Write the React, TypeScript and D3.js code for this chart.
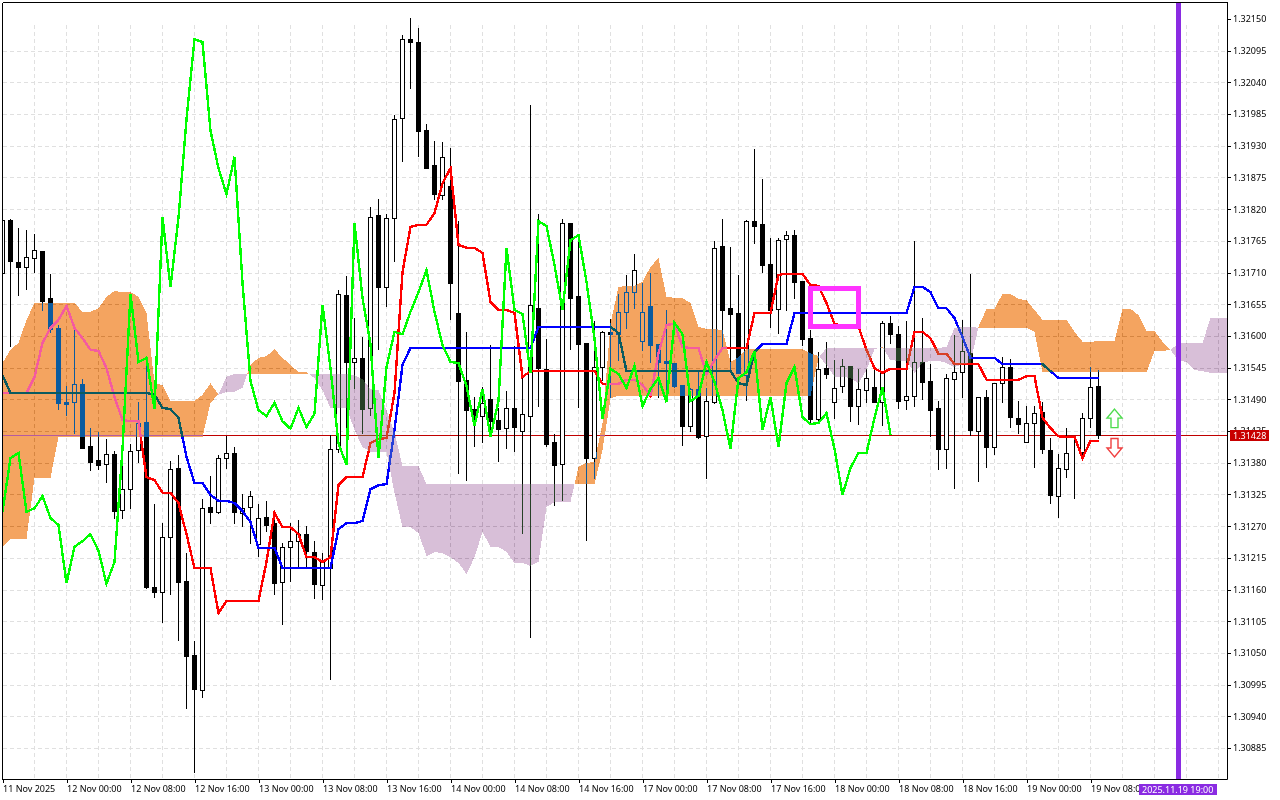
import React, { useEffect, useRef } from 'react'
import * as d3 from 'd3'

// all prices are points above 1.30000
const BASE = 1.3

const open = [
  1709, 1801, 1728, 1720, 1735, 1747, 1666, 1614, 1486, 1486,
  1517, 1409, 1385, 1378, 1395, 1298, 1335, 1402, 1451, 1164,
  1156, 1251, 1371, 1175, 1046, 986, 1303, 1295, 1388, 1397,
  1293, 1303, 1239, 1286, 1275, 1173, 1234, 1244, 1256, 1225,
  1168, 1197, 1404, 1671, 1555, 1562, 1475, 1810, 1685, 1805,
  1978, 2115, 2110, 1957, 1897, 1845, 1860, 1640, 1524, 1473,
  1461, 1491, 1454, 1440, 1475, 1435, 1461, 1649, 1543, 1416,
  1378, 1796, 1669, 1588, 1388, 1546, 1607, 1603, 1642, 1676,
  1591, 1652, 1586, 1557, 1553, 1515, 1444, 1508, 1426, 1485,
  1756, 1648, 1640, 1532, 1799, 1794, 1725, 1647, 1768, 1775,
  1695, 1596, 1456, 1544, 1485, 1513, 1548, 1478, 1506, 1511,
  1485, 1623, 1603, 1489, 1496, 1555, 1522, 1475, 1404, 1525,
  1537, 1570, 1435, 1494, 1407, 1518, 1546, 1457, 1416, 1449,
  1468, 1402, 1322, 1369, 1397, 1399, 1458, 1513,
]
const high = [
  1805, 1805, 1789, 1786, 1779, 1747, 1709, 1621, 1515, 1623,
  1527, 1442, 1435, 1423, 1402, 1380, 1414, 1487, 1550, 1310,
  1277, 1385, 1395, 1225, 1072, 1319, 1359, 1395, 1428, 1409,
  1328, 1333, 1310, 1315, 1295, 1243, 1277, 1282, 1272, 1246,
  1225, 1430, 1681, 1706, 1633, 1600, 1826, 1839, 1813, 1985,
  2124, 2154, 2136, 1970, 1940, 1938, 1928, 1801, 1609, 1496,
  1513, 1586, 1477, 1506, 1584, 1541, 2002, 1813, 1596, 1432,
  1805, 1798, 1775, 1588, 1628, 1610, 1631, 1675, 1708, 1744,
  1694, 1711, 1586, 1647, 1553, 1515, 1511, 1543, 1511, 1766,
  1805, 1756, 1708, 1803, 1926, 1874, 1772, 1772, 1784, 1786,
  1695, 1612, 1574, 1591, 1560, 1562, 1548, 1544, 1544, 1550,
  1628, 1636, 1619, 1628, 1766, 1633, 1553, 1489, 1536, 1603,
  1630, 1709, 1496, 1508, 1520, 1565, 1562, 1489, 1480, 1480,
  1487, 1425, 1397, 1442, 1425, 1468, 1548, 1543,
]
const low = [
  1683, 1583, 1671, 1681, 1711, 1645, 1607, 1473, 1463, 1432,
  1406, 1367, 1369, 1347, 1284, 1284, 1301, 1381, 1163, 1147,
  1104, 1152, 1072, 954, 843, 973, 1275, 1293, 1371, 1275,
  1270, 1241, 1218, 1262, 1152, 1100, 1175, 1197, 1199, 1145,
  1144, 1005, 1399, 1432, 1510, 1432, 1463, 1577, 1652, 1730,
  1904, 2030, 1912, 1891, 1838, 1838, 1629, 1362, 1350, 1409,
  1416, 1426, 1383, 1406, 1400, 1258, 1078, 1478, 1409, 1307,
  1315, 1577, 1477, 1246, 1354, 1524, 1494, 1558, 1614, 1648,
  1576, 1555, 1494, 1487, 1511, 1411, 1435, 1423, 1354, 1484,
  1581, 1541, 1536, 1489, 1761, 1711, 1616, 1605, 1645, 1666,
  1584, 1449, 1454, 1527, 1458, 1503, 1452, 1447, 1485, 1485,
  1445, 1588, 1475, 1473, 1478, 1491, 1426, 1369, 1371, 1336,
  1494, 1428, 1348, 1373, 1395, 1485, 1442, 1432, 1416, 1373,
  1397, 1310, 1286, 1355, 1319, 1390, 1442, 1423,
]
const close = [
  1801, 1730, 1720, 1737, 1749, 1661, 1612, 1484, 1482, 1517,
  1406, 1381, 1376, 1395, 1296, 1335, 1400, 1449, 1164, 1156,
  1251, 1369, 1173, 1045, 987, 1301, 1295, 1388, 1397, 1295,
  1301, 1322, 1284, 1272, 1171, 1234, 1244, 1256, 1227, 1170,
  1208, 1404, 1673, 1555, 1562, 1473, 1806, 1685, 1805, 1976,
  2115, 2110, 1956, 1891, 1846, 1911, 1692, 1522, 1471, 1461,
  1484, 1452, 1439, 1475, 1442, 1465, 1654, 1544, 1413, 1376,
  1796, 1666, 1586, 1388, 1546, 1607, 1603, 1642, 1676, 1714,
  1642, 1584, 1555, 1553, 1513, 1444, 1508, 1425, 1487, 1753,
  1645, 1638, 1536, 1799, 1791, 1723, 1645, 1766, 1775, 1694,
  1595, 1456, 1543, 1534, 1510, 1548, 1478, 1508, 1527, 1485,
  1623, 1603, 1487, 1496, 1555, 1520, 1471, 1404, 1527, 1537,
  1574, 1437, 1494, 1407, 1518, 1546, 1459, 1447, 1449, 1466,
  1404, 1324, 1371, 1397, 1397, 1458, 1511, 1428,
]

const tenkan = [
  1501, 1501, 1501, 1501, 1529, 1588, 1614, 1628, 1652, 1614,
  1596, 1576, 1574, 1544, 1494, 1454, 1452, 1452, 1355, 1350,
  1328, 1328, 1310, 1256, 1197, 1197, 1197, 1119, 1140, 1140,
  1140, 1140, 1140, 1208, 1293, 1268, 1268, 1256, 1216, 1216,
  1208, 1216, 1341, 1355, 1355, 1355, 1414, 1421, 1423, 1501,
  1711, 1789, 1793, 1793, 1813, 1865, 1891, 1758, 1753, 1753,
  1744, 1659, 1645, 1645, 1640, 1529, 1539, 1539, 1539, 1539,
  1539, 1539, 1539, 1539, 1539, 1517, 1517, 1517, 1524, 1524,
  1515, 1496, 1570, 1619, 1621, 1581, 1579, 1579, 1534, 1558,
  1579, 1579, 1579, 1579, 1640, 1640, 1640, 1706, 1708, 1708,
  1708, 1688, 1687, 1657, 1621, 1617, 1617, 1616, 1576, 1544,
  1536, 1543, 1543, 1543, 1607, 1607, 1596, 1569, 1569, 1551,
  1551, 1551, 1551, 1524, 1524, 1524, 1524, 1524, 1530, 1530,
  1458, 1440, 1426, 1425, 1425, 1388, 1418, 1418,
]
const kijun = [
  1532, 1501, 1501, 1501, 1501, 1501, 1501, 1501, 1501, 1501,
  1501, 1501, 1501, 1501, 1501, 1501, 1501, 1501, 1501, 1498,
  1475, 1473, 1458, 1390, 1345, 1345, 1324, 1314, 1314, 1310,
  1296, 1277, 1232, 1232, 1232, 1197, 1197, 1197, 1197, 1197,
  1197, 1197, 1265, 1275, 1275, 1279, 1334, 1341, 1343, 1437,
  1550, 1579, 1579, 1579, 1579, 1579, 1579, 1579, 1579, 1579,
  1579, 1579, 1579, 1579, 1579, 1579, 1579, 1616, 1616, 1616,
  1616, 1616, 1616, 1616, 1616, 1616, 1616, 1605, 1539, 1539,
  1539, 1539, 1539, 1539, 1539, 1539, 1539, 1539, 1539, 1539,
  1539, 1539, 1518, 1515, 1572, 1586, 1586, 1586, 1586, 1640,
  1640, 1640, 1640, 1640, 1640, 1640, 1640, 1640, 1640, 1640,
  1640, 1640, 1640, 1640, 1685, 1685, 1676, 1648, 1648, 1631,
  1598, 1562, 1562, 1562, 1562, 1551, 1551, 1551, 1551, 1551,
  1551, 1539, 1527, 1527, 1527, 1527, 1527, 1527,
]
// lagging span, plotted 26 bars back
const chikou = [
  1295, 1388, 1397, 1295,
  1301, 1322, 1284, 1272, 1171, 1234, 1244, 1256, 1227, 1170,
  1208, 1404, 1673, 1555, 1562, 1473, 1806, 1685, 1805, 1976,
  2115, 2110, 1956, 1891, 1846, 1911, 1692, 1522, 1471, 1461,
  1484, 1452, 1439, 1475, 1442, 1465, 1654, 1544, 1413, 1376,
  1796, 1666, 1586, 1388, 1546, 1607, 1603, 1642, 1676, 1714,
  1642, 1584, 1555, 1553, 1513, 1444, 1508, 1425, 1487, 1753,
  1645, 1638, 1536, 1799, 1791, 1723, 1645, 1766, 1775, 1694,
  1595, 1456, 1543, 1534, 1510, 1548, 1478, 1508, 1527, 1485,
  1623, 1603, 1487, 1496, 1555, 1520, 1471, 1404, 1527, 1537,
  1574, 1437, 1494, 1407, 1518, 1546, 1459, 1447, 1449, 1466,
  1404, 1324, 1371, 1397, 1397, 1458, 1511, 1428,
]
const spanA = [
  1553, 1576, 1588, 1628, 1657, 1657, 1657, 1657, 1657, 1657,
  1642, 1642, 1648, 1668, 1678, 1676, 1676, 1668, 1640, 1518,
  1515, 1487, 1487, 1487, 1487, 1498, 1518, 1498, 1503, 1503,
  1510, 1550, 1562, 1565, 1577, 1562, 1550, 1537, 1537, 1527,
  1506, 1475, 1475, 1475, 1437, 1407, 1399, 1399, 1399, 1328,
  1268, 1268, 1258, 1218, 1225, 1223, 1216, 1206, 1187, 1216,
  1260, 1234, 1234, 1225, 1206, 1206, 1201, 1208, 1303, 1312,
  1312, 1312, 1373, 1380, 1381, 1449, 1622, 1685, 1687, 1687,
  1694, 1720, 1735, 1668, 1666, 1666, 1657, 1616, 1612, 1612,
  1610, 1555, 1563, 1577, 1577, 1577, 1577, 1577, 1577, 1577,
  1577, 1570, 1565, 1550, 1529, 1529, 1527, 1518, 1541, 1577,
  1581, 1558, 1557, 1557, 1536, 1553, 1557, 1557, 1553, 1546,
  1551, 1553, 1616, 1647, 1647, 1673, 1673, 1664, 1662, 1645,
  1628, 1628, 1628, 1628, 1607, 1590, 1590, 1591, 1591, 1591,
  1647, 1647, 1636, 1609, 1609, 1590, 1576, 1557, 1555, 1541,
  1539, 1536, 1536, 1536,
]
const spanB = [
  1234, 1248, 1248, 1248, 1354, 1354, 1354, 1425, 1425, 1425,
  1425, 1425, 1425, 1425, 1425, 1425, 1425, 1425, 1425, 1425,
  1425, 1425, 1425, 1425, 1425, 1425, 1484, 1499, 1529, 1534,
  1534, 1534, 1534, 1534, 1534, 1534, 1534, 1534, 1534, 1534,
  1534, 1534, 1534, 1534, 1532, 1525, 1508, 1506, 1471, 1433,
  1374, 1374, 1374, 1343, 1343, 1343, 1343, 1343, 1343, 1343,
  1343, 1343, 1343, 1343, 1343, 1343, 1343, 1343, 1343, 1343,
  1343, 1343, 1343, 1343, 1343, 1402, 1492, 1496, 1496, 1496,
  1496, 1496, 1496, 1496, 1496, 1496, 1496, 1496, 1496, 1496,
  1496, 1496, 1496, 1496, 1496, 1496, 1496, 1496, 1496, 1496,
  1496, 1496, 1562, 1579, 1579, 1579, 1579, 1579, 1579, 1579,
  1579, 1579, 1579, 1579, 1579, 1579, 1579, 1579, 1581, 1614,
  1616, 1616, 1614, 1614, 1614, 1614, 1614, 1614, 1614, 1607,
  1537, 1537, 1537, 1537, 1537, 1537, 1537, 1537, 1537, 1537,
  1537, 1537, 1537, 1537, 1574, 1574, 1576, 1587, 1587, 1587,
  1588, 1631, 1631, 1631,
]

const priceTicks = [
  2150, 2095, 2040, 1985, 1930, 1875, 1820, 1765, 1710, 1655, 1600, 1545,
  1490, 1435, 1380, 1325, 1270, 1215, 1160, 1105, 1050, 995, 940, 885,
]
const timeLabels = [
  '11 Nov 2025', '12 Nov 00:00', '12 Nov 08:00', '12 Nov 16:00', '13 Nov 00:00', '13 Nov 08:00',
  '13 Nov 16:00', '14 Nov 00:00', '14 Nov 08:00', '14 Nov 16:00', '17 Nov 00:00', '17 Nov 08:00',
  '17 Nov 16:00', '18 Nov 00:00', '18 Nov 08:00', '18 Nov 16:00', '19 Nov 00:00', '19 Nov 08:00',
]
const lastPrice = 1428
const cursorBar = 147
const cursorLabel = '2025.11.19 19:00'
const rectBars = [101, 107]
const rectPrices = [1682, 1617]
const arrowBar = 139
const arrowUpPrice = 1473
const arrowDownPrice = 1390

const FONT = '"Noto Sans", sans-serif'
const FONT_SIZE = 9
const fmt = (v: number) => (BASE + v / 1e5).toFixed(5)

type CloudPt = { k: number; a: number; b: number }

// split the cloud into runs of one colour, adding the point where the spans cross
function cloudRuns() {
  const runs: { bull: boolean; pts: CloudPt[] }[] = []
  spanA.forEach((a, k) => {
    const b = spanB[k]
    const bull = a >= b
    let run = runs[runs.length - 1]
    if (!run || run.bull !== bull) {
      const next: { bull: boolean; pts: CloudPt[] } = { bull, pts: [] }
      if (run) {
        const pa = spanA[k - 1]
        const pb = spanB[k - 1]
        const t = (pa - pb) / (pa - pb - (a - b))
        const cross = { k: k - 1 + t, a: pa + (a - pa) * t, b: pa + (a - pa) * t }
        run.pts.push(cross)
        next.pts.push(cross)
      }
      runs.push(next)
      run = next
    }
    run.pts.push({ k, a, b })
  })
  return runs
}

export default function App() {
  const ref = useRef<SVGSVGElement | null>(null)

  useEffect(() => {
    const svg = d3.select(ref.current!)
    svg.selectAll('*').remove()

    const left = 2.5
    const right = 1227.5
    const top = 2.5
    const bottom = 779.5
    const x = d3.scaleLinear().domain([0, 153]).range([left, left + 8 * 153])
    const y = d3.scaleLinear().domain([2150, 885]).range([19, 748])
    const py = (v: number) => Math.round(y(v)) + 0.5

    svg.append('rect').attr('width', 1280).attr('height', 800).attr('fill', '#fff')
    svg.append('defs').append('clipPath').attr('id', 'plot')
      .append('rect').attr('x', left).attr('y', top).attr('width', right - left).attr('height', bottom - top)

    // grid, the top price level has no line and the verticals stop short of the frame
    const grid = svg.append('g').attr('shape-rendering', 'crispEdges')
      .attr('stroke', '#e0e0e0').attr('stroke-dasharray', '4 3')
    d3.range(4, 154, 4).forEach(k => {
      grid.append('line').attr('x1', x(k)).attr('x2', x(k)).attr('y1', 25).attr('y2', bottom)
    })
    priceTicks.slice(1).forEach(v => {
      grid.append('line').attr('x1', left).attr('x2', right).attr('y1', py(v)).attr('y2', py(v))
    })

    svg.append('line').attr('x1', left).attr('x2', right).attr('y1', py(lastPrice)).attr('y2', py(lastPrice))
      .attr('stroke', '#c00000').attr('shape-rendering', 'crispEdges')

    // candles
    const candles = svg.append('g').attr('clip-path', 'url(#plot)').attr('shape-rendering', 'crispEdges')
    open.forEach((o, k) => {
      const c = close[k]
      candles.append('line').attr('x1', x(k)).attr('x2', x(k))
        .attr('y1', py(high[k])).attr('y2', py(low[k])).attr('stroke', '#000')
      const bodyTop = py(Math.max(o, c))
      const bodyBot = py(Math.min(o, c))
      candles.append('rect').attr('x', x(k) - 2).attr('width', 4)
        .attr('y', bodyTop).attr('height', bodyBot - bodyTop)
        .attr('fill', c >= o ? '#fff' : '#000').attr('stroke', '#000')
    })

    const line = d3.line<number>().x((_, k) => x(k)).y(v => y(v))
    const lines = svg.append('g').attr('clip-path', 'url(#plot)').attr('fill', 'none')
      .attr('stroke-width', 2.4).attr('shape-rendering', 'crispEdges')
    lines.append('path').attr('d', line(tenkan)).attr('stroke', '#ff0000')
    lines.append('path').attr('d', line(kijun)).attr('stroke', '#0000ff')

    // the cloud inverts what lies under it, as the terminal's XOR fill does
    const area = d3.area<CloudPt>().x(d => x(d.k)).y0(d => y(d.a)).y1(d => y(d.b))
    cloudRuns().forEach(run => {
      svg.append('path').attr('d', area(run.pts))
        .attr('clip-path', 'url(#plot)')
        .attr('shape-rendering', 'crispEdges')
        .attr('fill', run.bull ? '#0b5b9f' : '#274027')
        .style('mix-blend-mode', 'difference')
    })

    svg.append('path').attr('d', line(chikou)).attr('clip-path', 'url(#plot)')
      .attr('fill', 'none').attr('stroke', '#00ff00').attr('stroke-width', 2.4)
      .attr('shape-rendering', 'crispEdges')

    // marker rectangle
    svg.append('rect')
      .attr('x', x(rectBars[0])).attr('width', x(rectBars[1]) - x(rectBars[0]))
      .attr('y', y(rectPrices[0])).attr('height', y(rectPrices[1]) - y(rectPrices[0]))
      .attr('fill', 'none').attr('stroke', '#ff33ff').attr('stroke-width', 5)
      .attr('shape-rendering', 'crispEdges')

    // signal arrows
    const ax = x(arrowBar)
    svg.append('path')
      .attr('transform', `translate(${ax},${y(arrowUpPrice)})`)
      .attr('d', 'M0,0L7.5,9H3.5V18.5H-3.5V9H-7.5Z')
      .attr('fill', '#fff').attr('stroke', '#4ddc4d').attr('stroke-width', 1.4)
    svg.append('path')
      .attr('transform', `translate(${ax},${y(arrowDownPrice)})`)
      .attr('d', 'M0,0L7.5,-9H3.5V-18.5H-3.5V-9H-7.5Z')
      .attr('fill', '#fff').attr('stroke', '#f04040').attr('stroke-width', 1.4)

    // vertical cursor
    svg.append('line').attr('x1', x(cursorBar)).attr('x2', x(cursorBar)).attr('y1', top).attr('y2', bottom)
      .attr('stroke', '#8a2be2').attr('stroke-width', 5).attr('shape-rendering', 'crispEdges')

    // axes
    const yAxis = d3.axisRight(y).tickValues(priceTicks).tickSize(4).tickPadding(2)
      .tickFormat(v => fmt(+v))
    const yg = svg.append('g').attr('transform', `translate(${right - 0.5},0)`).call(yAxis)
    yg.select('.domain').attr('d', `M0.5,${top}V${bottom}`)
    yg.selectAll('line').attr('shape-rendering', 'crispEdges')
    yg.selectAll('text').attr('font-family', FONT).attr('font-size', FONT_SIZE).attr('fill', '#000')

    const xTicks = timeLabels.map((_, i) => i * 8)
    const xAxis = d3.axisBottom(x).tickValues(xTicks).tickSize(4).tickPadding(3)
      .tickFormat((_, i) => timeLabels[i])
    const xg = svg.append('g').attr('transform', `translate(0,${bottom - 0.5})`).call(xAxis)
    xg.select('.domain').attr('d', `M${left},0.5H${right}`)
    xg.selectAll('line').attr('shape-rendering', 'crispEdges')
    xg.selectAll('text').attr('font-family', FONT).attr('font-size', FONT_SIZE).attr('fill', '#000')
      .attr('text-anchor', 'start')

    const frame = svg.append('g').attr('stroke', '#000').attr('shape-rendering', 'crispEdges')
    frame.append('line').attr('x1', left).attr('x2', left).attr('y1', top).attr('y2', bottom)
    frame.append('line').attr('x1', left).attr('x2', right).attr('y1', top).attr('y2', top)

    // price tag
    svg.append('rect').attr('x', 1230).attr('y', py(lastPrice) - 5.5).attr('width', 39).attr('height', 11)
      .attr('fill', '#c80000')
    svg.append('text').attr('x', 1233).attr('y', py(lastPrice) + 3.5)
      .attr('font-family', FONT).attr('font-size', FONT_SIZE).attr('fill', '#fff').text(fmt(lastPrice))

    // cursor time tag
    svg.append('rect').attr('x', 1139).attr('y', 784).attr('width', 78).attr('height', 11).attr('fill', '#8a2be2')
    svg.append('text').attr('x', 1142).attr('y', 793)
      .attr('font-family', FONT).attr('font-size', FONT_SIZE).attr('fill', '#fff').text(cursorLabel)
  }, [])

  return <svg ref={ref} width={1280} height={800} style={{ position: 'absolute', left: 0, top: 0, display: 'block' }} />
}
